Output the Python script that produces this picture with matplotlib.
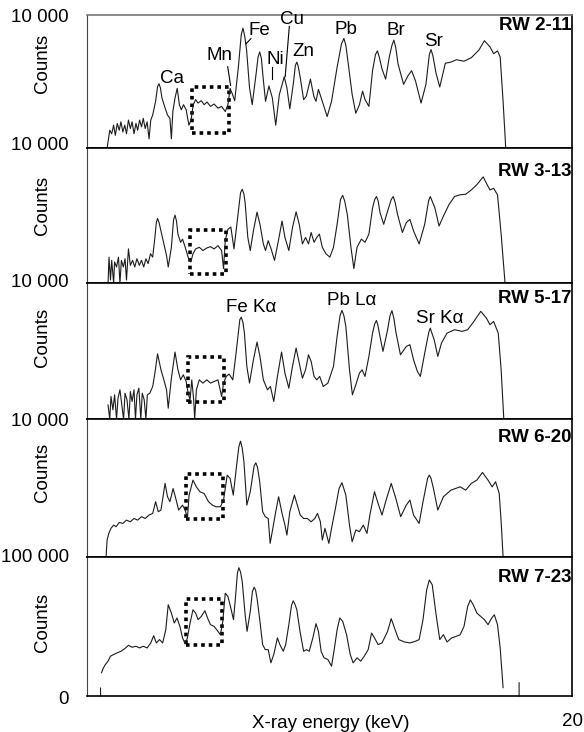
import matplotlib
matplotlib.use("Agg")
import matplotlib.pyplot as plt
from matplotlib.patches import Rectangle
import numpy as np

plt.rcParams['font.family'] = ['Liberation Sans', 'DejaVu Sans']

# ---------------- data: (energy keV, relative counts % of panel) ----------------
rw2_11 = [(0.84,0),(0.95,13.5),(1.03,10.9),(1.11,17.3),(1.18,9.7),(1.26,18.6),(1.34,13.5),(1.41,19.8),(1.49,12.2),(1.57,17.3),
 (1.64,10.9),(1.72,21.1),(1.80,14.8),(1.87,19.8),(1.95,10.9),(2.03,18.6),(2.10,13.5),(2.18,21.1),(2.26,16.0),(2.33,22.4),
 (2.41,14.8),(2.49,19.8),(2.57,7.1),(2.64,21.1),(2.72,24.9),(2.84,35.1),(2.92,46.0),(2.98,48.3),(3.04,45.0),(3.10,37.7),(3.21,31.3),(3.33,24.9),
 (3.43,22.4),(3.49,7.1),(3.55,27.5),(3.64,37.7),(3.73,44.8),(3.82,32.6),(3.90,28.8),(3.99,32.6),(4.10,28.8),(4.21,17.3),
 (4.30,21.1),(4.39,32.6),(4.49,36.4),(4.59,33.8),(4.72,35.6),(4.84,32.6),(4.96,34.6),(5.10,31.3),(5.25,33.1),(5.41,30.0),
 (5.56,31.3),(5.71,27.5),(5.82,32.6),(5.91,44.8),(6.01,40.2),(6.10,35.6),(6.25,60.6),(6.37,85.0),(6.44,89.8),(6.51,84.0),(6.59,73.3),(6.71,45.3),
 (6.82,32.6),(6.98,55.5),(7.06,68.0),(7.13,72.0),(7.20,67.0),(7.27,52.9),(7.37,35.1),(7.51,46.6),(7.65,37.7),(7.79,17.3),(7.94,40.2),(8.14,53.4),
 (8.25,45.3),(8.37,29.5),(8.53,50.4),(8.60,62.0),(8.66,64.4),(8.72,61.0),(8.80,52.9),(8.94,36.4),(9.05,38.9),(9.22,51.7),(9.36,38.9),(9.45,35.1),
 (9.55,44.0),(9.71,35.1),(9.91,23.7),(10.09,35.1),(10.32,60.6),(10.50,78.0),(10.60,82.2),(10.68,77.0),(10.78,63.1),(10.94,40.2),(11.09,26.2),(11.24,32.6),
 (11.37,42.7),(11.47,36.4),(11.63,31.3),(11.78,58.0),(11.90,70.0),(11.98,72.8),(12.06,68.0),(12.17,59.3),(12.32,51.7),(12.47,68.2),(12.58,77.0),(12.66,80.9),(12.74,75.0),(12.83,63.1),
 (13.06,47.8),(13.24,54.2),(13.39,58.0),(13.55,50.4),(13.78,33.8),(13.98,47.8),(14.12,70.0),(14.19,73.8),(14.27,69.0),(14.39,56.7),(14.55,45.8),(14.78,63.6),
 (15.01,64.4),(15.24,66.2),(15.55,65.1),(15.85,67.7),(16.16,73.3),(16.39,80.4),(16.62,75.8),(16.77,70.7),(16.93,72.8),(17.04,68.2),
 (17.16,35.1),(17.27,0)]

rw3_13 = [(0.88,0),(0.92,19.2),(0.98,2.2),(1.03,16.8),(1.11,0),(1.15,15.6),(1.23,11.9),(1.31,19.2),(1.37,0),(1.43,16.8),
 (1.51,11.9),(1.58,18.0),(1.64,2.2),(1.72,25.3),(1.80,13.1),(1.89,16.8),(1.98,11.9),(2.07,18.0),(2.17,13.1),(2.26,16.8),
 (2.35,11.9),(2.44,18.0),(2.53,14.4),(2.63,21.7),(2.72,19.2),(2.81,33.8),(2.87,45.0),(2.92,47.9),(2.98,45.0),(3.06,38.7),(3.18,29.0),(3.29,20.4),
 (3.36,11.9),(3.49,26.5),(3.58,47.0),(3.64,50.4),(3.70,46.0),(3.76,36.3),(3.87,30.2),(3.95,32.6),(4.06,26.5),(4.18,19.2),(4.29,15.6),(4.38,21.7),
 (4.49,25.3),(4.64,26.5),(4.79,24.1),(4.95,26.0),(5.10,27.0),(5.25,25.3),(5.41,27.7),(5.56,24.1),(5.64,10.7),(5.71,31.4),
 (5.82,39.9),(5.94,41.6),(6.07,25.3),(6.19,43.6),(6.30,60.6),(6.34,67.0),(6.41,69.6),(6.48,66.0),(6.53,59.4),(6.64,33.8),(6.74,24.1),(6.87,38.7),
 (7.02,52.6),(7.14,43.6),(7.28,29.0),(7.37,24.1),(7.48,31.4),(7.60,25.3),(7.74,16.8),(7.90,31.4),(8.05,46.0),(8.17,33.8),
 (8.33,24.1),(8.48,41.1),(8.63,52.8),(8.76,43.6),(8.89,29.0),(9.02,33.8),(9.14,29.0),(9.25,37.5),(9.37,30.2),(9.48,33.8),
 (9.59,36.3),(9.71,26.5),(9.86,21.7),(10.02,19.2),(10.17,26.5),(10.32,43.6),(10.46,62.0),(10.55,65.0),(10.63,61.0),(10.74,50.9),(10.89,26.5),(11.01,10.7),
 (11.14,26.5),(11.32,32.6),(11.47,30.2),(11.63,36.3),(11.78,55.7),(11.87,62.0),(11.94,64.2),(12.01,61.0),(12.09,52.1),(12.24,43.6),(12.40,53.3),(12.55,62.0),(12.63,64.2),(12.71,60.0),
 (12.81,50.9),(13.01,37.5),(13.17,44.8),(13.32,47.2),(13.47,38.7),(13.70,29.0),(13.93,43.6),(14.09,61.0),(14.16,64.2),(14.23,61.0),(14.35,55.7),(14.52,42.3),
 (14.70,49.6),(14.93,58.2),(15.16,64.2),(15.39,65.5),(15.62,65.9),(15.85,69.1),(16.08,73.0),(16.34,78.8),(16.51,72.7),(16.62,69.1),
 (16.77,70.3),(16.93,65.5),(17.08,36.3),(17.24,0)]

rw5_17 = [(0.88,10.5),(0.95,0),(1.00,16.7),(1.08,6.9),(1.15,17.9),(1.23,0),(1.29,15.4),(1.37,21.6),(1.44,11.8),(1.52,0),
 (1.58,19.1),(1.66,14.2),(1.74,0),(1.80,20.3),(1.87,13.0),(1.95,21.6),(2.01,0),(2.07,17.9),(2.15,22.8),(2.23,0),
 (2.29,19.1),(2.37,14.2),(2.44,0),(2.50,17.9),(2.60,19.1),(2.72,24.0),(2.81,33.8),(2.92,48.0),(3.06,36.3),(3.18,28.9),
 (3.29,21.6),(3.36,8.1),(3.49,30.1),(3.64,49.3),(3.76,36.3),(3.87,28.9),(3.98,32.6),(4.10,27.7),(4.18,19.1),(4.26,14.2),
 (4.33,28.9),(4.41,14.2),(4.45,0),(4.52,21.6),(4.64,28.9),(4.79,26.5),(4.95,28.9),(5.10,26.5),(5.25,27.7),(5.41,28.9),
 (5.56,16.7),(5.64,26.5),(5.75,31.4),(5.87,33.1),(6.02,28.9),(6.14,46.1),(6.28,68.1),(6.31,73.0),(6.37,75.0),(6.44,71.0),(6.50,63.2),(6.60,38.7),
 (6.71,26.5),(6.87,43.6),(7.02,56.6),(7.14,46.1),(7.28,28.9),(7.45,21.6),(7.57,24.0),(7.71,13.0),(7.86,31.4),(8.03,49.3),
 (8.17,33.8),(8.33,22.8),(8.48,38.7),(8.63,52.2),(8.76,41.2),(8.89,30.1),(9.02,36.3),(9.14,47.3),(9.25,42.4),(9.37,31.4),
 (9.48,28.9),(9.60,31.4),(9.75,24.0),(9.94,26.5),(10.17,38.7),(10.32,60.8),(10.44,76.0),(10.52,79.9),(10.60,76.0),(10.68,68.1),(10.83,36.3),(10.95,17.9),
 (11.09,25.2),(11.24,33.8),(11.35,36.3),(11.47,31.4),(11.63,46.1),(11.78,63.2),(11.87,70.0),(11.94,72.5),(12.00,69.0),(12.06,63.2),(12.21,49.8),(12.40,65.7),
 (12.50,76.0),(12.58,79.7),(12.66,74.0),(12.75,63.2),(12.93,47.3),(13.17,53.4),(13.32,54.7),(13.47,43.6),(13.63,35.0),(13.75,31.4),(13.93,48.5),(14.10,64.0),(14.16,66.9),
 (14.23,63.0),(14.32,58.3),(14.47,46.1),(14.62,55.9),(14.85,63.2),(15.16,65.7),(15.47,64.5),(15.70,65.7),(15.93,71.1),(16.24,79.2),(16.47,74.3),
 (16.62,69.4),(16.77,71.8),(16.96,63.2),(17.08,36.3),(17.19,0)]

rw6_20 = [(0.80,0),(0.84,12.1),(0.91,16.9),(1.00,20.6),(1.11,23.0),(1.21,21.8),(1.34,24.9),(1.49,24.2),(1.64,26.6),(1.80,25.4),
 (1.95,27.8),(2.10,26.6),(2.26,29.1),(2.41,27.8),(2.57,30.3),(2.72,31.5),(2.84,40.0),(2.95,32.7),(3.06,33.9),(3.23,53.3),
 (3.33,43.6),(3.43,40.0),(3.56,49.6),(3.67,42.4),(3.79,33.9),(3.95,37.5),(4.06,33.9),(4.15,27.8),(4.22,44.8),(4.38,55.7),
 (4.52,50.8),(4.67,47.2),(4.84,46.0),(5.02,40.0),(5.18,37.5),(5.33,36.3),(5.51,36.3),(5.64,41.2),(5.79,59.3),(5.91,56.9),
 (6.04,44.8),(6.18,66.6),(6.27,80.0),(6.34,84.0),(6.41,79.0),(6.48,69.0),(6.60,37.5),(6.74,47.2),(6.90,66.0),(6.97,68.3),(7.04,65.0),(7.13,54.5),(7.25,32.7),(7.36,29.1),
 (7.48,27.8),(7.56,9.7),(7.67,20.6),(7.79,32.7),(7.91,43.6),(8.05,31.5),(8.17,23.0),(8.25,15.7),(8.37,32.7),(8.56,44.8),
 (8.68,37.5),(8.80,30.3),(8.94,27.8),(9.09,27.8),(9.25,25.4),(9.40,27.8),(9.51,31.5),(9.63,25.4),(9.71,12.1),(9.82,20.6),
 (9.98,9.7),(10.09,20.6),(10.25,35.1),(10.40,49.6),(10.52,53.8),(10.68,44.8),(10.83,23.0),(10.94,10.9),(11.09,19.4),(11.24,18.2),
 (11.40,23.0),(11.55,16.9),(11.67,30.3),(11.86,47.2),(12.01,38.7),(12.17,30.3),(12.32,40.0),(12.55,53.3),(12.74,42.4),(12.94,29.1),
 (13.17,37.5),(13.32,41.2),(13.47,30.3),(13.70,24.2),(13.86,40.0),(14.05,57.0),(14.12,59.3),(14.19,57.0),(14.29,49.6),(14.47,33.9),(14.70,43.6),(15.01,48.4),
 (15.39,50.8),(15.62,48.4),(15.85,53.3),(16.08,55.7),(16.31,61.3),(16.54,55.7),(16.71,50.8),(16.85,54.5),(17.00,46.0),(17.08,25.4),
 (17.16,0)]

rw7_23 = [(0.57,0),(0.57,5.7),(None,None),
 (0.61,16.7),(0.69,20.2),(0.77,22.6),(0.88,25.0),(0.98,28.6),(1.11,29.8),(1.26,31.0),(1.41,32.1),(1.57,34.0),(1.72,36.4),
 (1.87,35.0),(2.03,35.7),(2.18,34.5),(2.33,35.7),(2.49,34.5),(2.64,38.1),(2.76,43.3),(2.87,38.1),(3.00,40.5),(3.13,38.1),
 (3.26,47.6),(3.36,65.5),(3.49,59.5),(3.61,52.4),(3.72,56.0),(3.84,50.0),(3.95,41.7),(4.06,37.4),(4.15,41.7),(4.26,52.4),
 (4.38,61.9),(4.49,59.5),(4.59,54.8),(4.72,57.1),(4.87,61.2),(4.99,55.6),(5.10,51.2),(5.25,50.0),(5.41,46.4),(5.51,44.0),
 (5.61,53.6),(5.71,73.8),(5.82,71.4),(5.94,63.1),(6.05,54.8),(6.14,72.6),(6.21,88.0),(6.27,92.1),(6.34,89.0),(6.41,82.1),(6.53,58.3),(6.61,46.4),
 (6.74,60.7),(6.83,75.0),(6.90,78.1),(6.96,76.0),(7.02,70.2),(7.14,53.6),(7.25,36.9),(7.36,33.3),(7.48,33.3),(7.59,23.8),(7.71,29.8),(7.86,41.7),
 (7.96,36.9),(8.10,32.1),(8.20,36.9),(8.33,51.2),(8.44,65.0),(8.51,68.3),(8.58,66.0),(8.66,61.9),(8.79,46.4),(8.94,32.1),(9.06,33.3),(9.17,32.1),
 (9.32,41.7),(9.45,51.9),(9.55,46.4),(9.66,32.1),(9.78,27.4),(9.94,26.2),(10.09,21.4),(10.21,34.5),(10.32,47.6),(10.43,56.0),
 (10.55,53.6),(10.71,44.0),(10.86,29.8),(10.98,23.8),(11.14,27.4),(11.29,25.0),(11.44,28.6),(11.60,33.3),(11.74,45.2),(11.86,41.7),
 (12.01,36.9),(12.17,38.1),(12.40,46.4),(12.55,55.5),(12.71,47.6),(12.86,40.5),(13.09,38.8),(13.32,38.1),(13.55,39.3),(13.70,40.5),
 (13.86,54.8),(14.01,76.2),(14.12,83.3),(14.24,79.8),(14.40,58.3),(14.55,40.5),(14.70,44.0),(14.85,38.8),(15.04,41.7),(15.24,42.9),
 (15.39,44.0),(15.55,50.0),(15.70,64.3),(15.81,69.0),(15.93,65.5),(16.08,59.5),(16.24,57.1),(16.39,54.8),(16.54,51.2),(16.69,56.0),
 (16.80,58.3),(16.93,51.2),(17.04,34.5),(17.16,6.0),(None,None),
 (17.82,0),(17.82,9.5)]

sample_names = ["RW 2-11", "RW 3-13", "RW 5-17", "RW 6-20", "RW 7-23"]
spectra = [rw2_11, rw3_13, rw5_17, rw6_20, rw7_23]
y_top_labels = ["10 000", "10 000", "10 000", "10 000", "100 000"]
y_bottom_label = "0"

# element labels: (panel index, text, energy, rel height)
element_labels = [
    (0, "Ca", 3.52, 52), (0, "Mn", 5.49, 69), (0, "Fe", 7.10, 88), (0, "Ni", 7.76, 66),
    (0, "Cu", 8.46, 96), (0, "Zn", 8.95, 72), (0, "Pb", 10.68, 89), (0, "Br", 12.73, 88),
    (0, "Sr", 14.30, 80),
    (2, "Fe K\u03b1", 6.79, 82), (2, "Pb L\u03b1", 10.94, 87), (2, "Sr K\u03b1", 14.55, 74),
]
leaders = [((5.81, 61), (5.93, 47)), ((6.77, 82), (6.56, 78)),
           ((8.35, 91), (8.18, 53.5)), ((7.62, 61), (7.62, 52))]
# dotted boxes (E0, E1, h0, h1) per panel
boxes = [(4.36, 5.87, 11.7, 45.8), (4.25, 5.74, 6.6, 39.2), (4.18, 5.64, 12.3, 45.6),
         (4.10, 5.61, 27.1, 59.8), (4.10, 5.58, 36.9, 69.5)]

# ---------------- layout ----------------
W, H = 584, 732
fig = plt.figure(figsize=(W/100, H/100), dpi=100)
left_px, right_px = 86.7, 572.0
bounds = [14.5, 148.3, 283.0, 419.2, 556.7, 696.0]
rw_y_px = [26, 171, 299, 437, 578]
counts_y_px = [63, 205, 337, 472, 622]
ylab_y_px = [18, 146, 283, 421, 557, 700]

def fx(x): return x / W
def fy(y): return 1 - y / H

FS = 13.5
for i in range(5):
    top, bot = bounds[i], bounds[i+1]
    ax = fig.add_axes([fx(left_px), fy(bot), (right_px-left_px)/W, (bot-top)/H])
    ax.set_xlim(0, 20)
    ax.set_ylim(0, 100)
    ax.set_xticks([]); ax.set_yticks([])
    for s in ax.spines.values():
        s.set_color('black'); s.set_linewidth(1.2)
    ax.spines['left'].set_linewidth(0.8)
    ax.spines['left'].set_color('#444444')
    if i == 0:
        ax.spines['top'].set_color('#777777')
    data = spectra[i]
    e = np.array([p[0] if p[0] is not None else np.nan for p in data], dtype=float)
    c = np.array([p[1] if p[1] is not None else np.nan for p in data], dtype=float)
    ax.plot(e, c, color='#1c1c1c', lw=0.8, clip_on=False)
    b = boxes[i]
    ax.add_patch(Rectangle((b[0], b[2]), b[1]-b[0], b[3]-b[2], fill=False,
                           lw=2.6, ls=(0, (1, 1.1)), color='black'))
    ax.text(0.9985, 1 - (rw_y_px[i]-top)/(bot-top), sample_names[i], transform=ax.transAxes,
            ha='right', va='center', fontsize=FS, fontweight='bold')
    for (pi, txt, ex, hy) in element_labels:
        if pi == i:
            ax.text(ex, hy, txt, ha='center', va='center', fontsize=FS)
    if i == 0:
        for (p0, p1) in leaders:
            ax.plot([p0[0], p1[0]], [p0[1], p1[1]], color='black', lw=0.8)
    fig.text(fx(42), fy(counts_y_px[i]), "Counts", rotation=90, ha='center', va='center', fontsize=FS)

for j, yp in enumerate(ylab_y_px[:5]):
    fig.text(fx(69), fy(yp), y_top_labels[j], ha='right', va='center', fontsize=FS)
fig.text(fx(69), fy(ylab_y_px[5]), y_bottom_label, ha='right', va='center', fontsize=FS)

fig.text(fx(572.5), fy(721), "20", ha='center', va='center', fontsize=FS)
fig.text(fx(331), fy(723), "X-ray energy (keV)", ha='center', va='center', fontsize=FS)

fig.savefig("out.png", dpi=100)
